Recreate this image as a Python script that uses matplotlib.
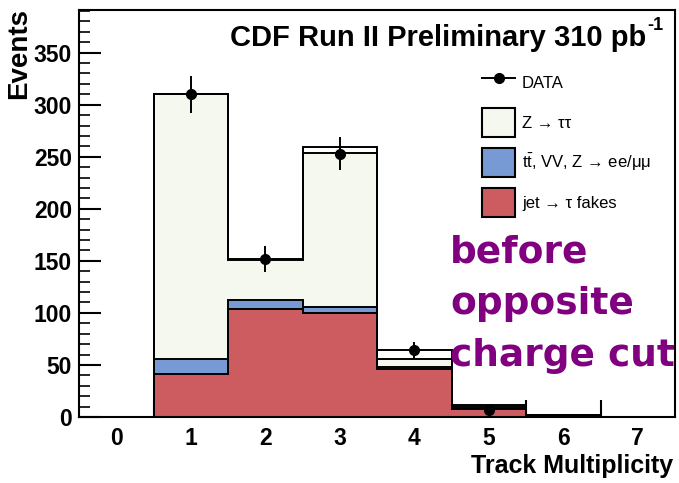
import numpy as np
import matplotlib
matplotlib.use("Agg")
import matplotlib.pyplot as plt
from matplotlib.patches import Patch
from matplotlib.lines import Line2D

plt.rcParams['font.family'] = ['Liberation Sans', 'DejaVu Sans']
plt.rcParams['mathtext.fontset'] = 'custom'
plt.rcParams['mathtext.rm'] = 'Liberation Sans'
plt.rcParams['mathtext.it'] = 'Liberation Sans:italic'
plt.rcParams['mathtext.bf'] = 'Liberation Sans:bold'

# ---- data ----
track_mult = [0, 1, 2, 3, 4, 5, 6, 7]
jet_fakes = [0, 41, 103.5, 99.5, 46.5, 7.5, 1, 0]
ttbar_vv = [0, 15, 8.5, 6.5, 2, 0.2, 0, 0]
z_tautau = [0, 254, 39, 147.5, 7.5, 1.8, 0.5, 0]
other_bkg = [0, 0.5, 1, 6, 8, 2.2, 0, 0]
data_x = [1, 2, 3, 4, 5]
data_y = [310, 152, 253, 64, 7]
xtick_labels = ['0', '1', '2', '3', '4', '5', '6', '7']

c_z = '#f4f8ee'
c_blue = '#7799d4'
c_red = '#cd5c61'
c_white = '#ffffff'

fig = plt.figure(figsize=(6.79, 4.83), dpi=100)
ax = fig.add_axes([79/679, 1-417/483, (675-79)/679, (417-10)/483])

edges = np.arange(len(track_mult) + 1) - 0.5
l1 = np.array(jet_fakes)
l2 = l1 + np.array(ttbar_vv)
l3 = l2 + np.array(z_tautau)
l4 = l3 + np.array(other_bkg)
for vals, col in [(l4, c_white), (l3, c_z), (l2, c_blue), (l1, c_red)]:
    ax.stairs(vals, edges, baseline=0, fill=True, facecolor=col,
              edgecolor='none', zorder=2)
    ax.stairs(vals, edges, baseline=None, fill=False, edgecolor='black',
              linewidth=1.4, zorder=3)

ax.errorbar(data_x, data_y, yerr=np.sqrt(data_y), fmt='o', color='black',
            markersize=7, elinewidth=1.4, capsize=0, zorder=5)

ax.set_xlim(-0.5, 7.5)
ax.set_ylim(0, 391)

ax.set_xticks(track_mult)
ax.set_xticklabels(xtick_labels)
ax.set_xticks(np.arange(0.5, 7.0, 1.0), minor=True)
ax.tick_params(axis='x', which='major', length=0, pad=7, labelsize=16.5)
ax.tick_params(axis='x', which='minor', direction='in', length=12, width=1.5)
ax.set_yticks(np.arange(0, 351, 50))
ax.set_yticks(np.arange(0, 391, 10), minor=True)
ax.tick_params(axis='y', which='major', direction='in', length=16, width=1.5,
               pad=5, labelsize=16.5)
ax.tick_params(axis='y', which='minor', direction='in', length=8, width=1.2)
for lab in ax.get_xticklabels() + ax.get_yticklabels():
    lab.set_fontweight('bold')
for sp in ax.spines.values():
    sp.set_linewidth(1.5)

fig.text(19/679, 1-8/483, 'Events', rotation=90, ha='center', va='top',
         fontsize=20, fontweight='bold')
fig.text(673/679, 1-473/483, 'Track Multiplicity', ha='right', va='baseline',
         fontsize=18, fontweight='bold')
fig.text(646/679, 1-46/483, 'CDF Run II Preliminary 310 pb',
         ha='right', va='baseline', fontsize=21, fontweight='bold')
fig.text(647/679, 1-30/483, '-1', ha='left', va='baseline', fontsize=13,
         fontweight='bold')

handles = [
    Line2D([0], [0], color='black', marker='o', markersize=7, linewidth=1.4),
    Patch(facecolor=c_z, edgecolor='black', linewidth=1.5),
    Patch(facecolor=c_blue, edgecolor='black', linewidth=1.5),
    Patch(facecolor=c_red, edgecolor='black', linewidth=1.5),
]
labels = ['DATA', 'Z \u2192 \u03c4\u03c4',
          't$\\bar{\\mathrm{t}}$, VV, Z \u2192 ee/\u03bc\u03bc',
          'jet \u2192 \u03c4 fakes']
fig.legend(handles, labels, loc='upper left',
           bbox_to_anchor=(482/679, 1-68/483), frameon=False, fontsize=12,
           borderpad=0, borderaxespad=0, handlelength=1.98, handleheight=2.3,
           labelspacing=0.66, handletextpad=0.42)

fig.text(450/679, 1-366/483, 'before\nopposite\ncharge cut', ha='left',
         va='baseline', fontsize=27, fontweight='bold', color='#800080',
         family='DejaVu Sans', linespacing=1.56)

fig.savefig('out.png', dpi=100)
